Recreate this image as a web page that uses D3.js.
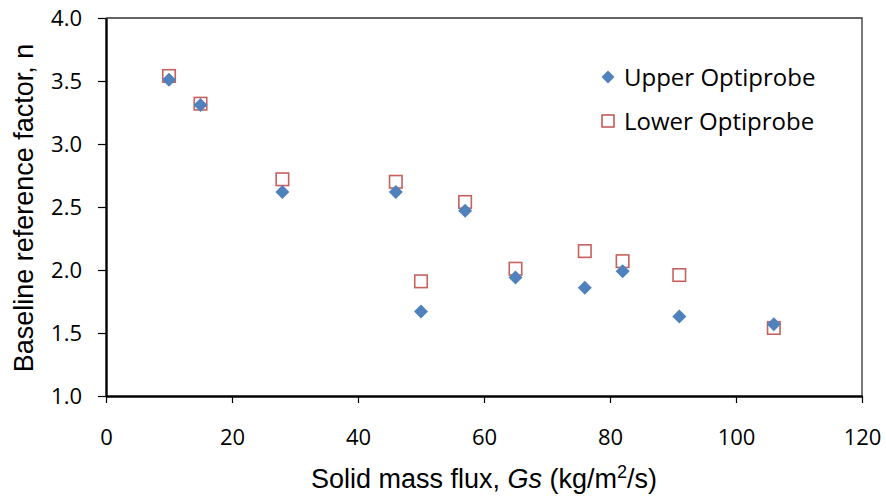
<!DOCTYPE html>
<html><head><meta charset="utf-8">
<script src="https://cdn.jsdelivr.net/npm/d3@7"></script>
<style>body{margin:0;background:#fff}</style>
</head><body><svg id="c" width="886" height="496"></svg>
<script>
const flux = [10, 15, 28, 46, 50, 57, 65, 76, 82, 91, 106];
const upper = [3.51, 3.31, 2.62, 2.62, 1.67, 2.47, 1.94, 1.86, 1.99, 1.63, 1.57];
const lower = [3.54, 3.32, 2.72, 2.70, 1.91, 2.54, 2.01, 2.15, 2.07, 1.96, 1.54];
const xTicks = [0, 20, 40, 60, 80, 100, 120];
const yTicks = [1.0, 1.5, 2.0, 2.5, 3.0, 3.5, 4.0];
const seriesNames = ["Upper Optiprobe", "Lower Optiprobe"];

const svg = d3.select("#c");
const m = {l:106, r:862, t:18, b:396};
const x = d3.scaleLinear().domain([0,120]).range([m.l, m.r]);
const y = d3.scaleLinear().domain([1,4]).range([m.b, m.t]);
const tickFont = "'Open Sans', 'Noto Sans', sans-serif";

// plot border (top/right)
svg.append("path").attr("d", `M${m.l},${m.t}H${m.r}V${m.b}`).attr("fill","none").attr("stroke","#333").attr("stroke-width",1.3);

const xa = svg.append("g").attr("transform",`translate(0,${m.b})`)
  .call(d3.axisBottom(x).tickValues(xTicks).tickSize(7).tickPadding(26).tickSizeOuter(0));
const ya = svg.append("g").attr("transform",`translate(${m.l},0)`)
  .call(d3.axisLeft(y).tickValues(yTicks).tickFormat(d3.format(".1f")).tickSize(8).tickPadding(16).tickSizeOuter(0));
[xa, ya].forEach(g => {
  g.select(".domain").attr("stroke","#000").attr("stroke-width",2.4);
  g.selectAll(".tick line").attr("stroke","#000").attr("stroke-width",1.2);
  g.selectAll("text").attr("font-family", tickFont).attr("font-size", 22).attr("fill","#000");
});
ya.selectAll("text").attr("dy","0.36em");

function diamondPath(s){ return `M0,${-s}L${s},0L0,${s}L${-s},0Z`; }

// lower series (squares)
svg.append("g").selectAll("rect").data(flux.map((f,i)=>[f, lower[i]])).join("rect")
  .attr("x", d=>x(d[0])-6.25).attr("y", d=>y(d[1])-6.25).attr("width",12.5).attr("height",12.5)
  .attr("fill","none").attr("stroke","#C0504D").attr("stroke-width",1.6).attr("opacity",0.9);
// upper series (diamonds)
svg.append("g").selectAll("path").data(flux.map((f,i)=>[f, upper[i]])).join("path")
  .attr("d", diamondPath(7)).attr("transform", d=>`translate(${x(d[0])},${y(d[1])})`)
  .attr("fill","#4F81BD");

// legend
const lg = svg.append("g");
lg.append("path").attr("d", diamondPath(6.5)).attr("transform","translate(608,77)").attr("fill","#4F81BD");
lg.append("rect").attr("x",602).attr("y",115).attr("width",12).attr("height",12).attr("fill","none").attr("stroke","#C0504D").attr("stroke-width",1.5);
lg.append("text").attr("x",624).attr("y",86).text(seriesNames[0]).attr("font-family",tickFont).attr("font-size",24);
lg.append("text").attr("x",624).attr("y",130).text(seriesNames[1]).attr("font-family",tickFont).attr("font-size",24);

// axis titles
const titleFont = "'Liberation Sans', Arial, sans-serif";
const xt = svg.append("text").attr("x", 484).attr("y", 488).attr("text-anchor","middle")
  .attr("font-family", titleFont).attr("font-size", 27);
xt.append("tspan").text("Solid mass flux, ");
xt.append("tspan").attr("font-style","italic").text("Gs");
xt.append("tspan").text(" (kg/m");
xt.append("tspan").attr("font-size",18).attr("dy",-10).text("2");
xt.append("tspan").attr("dy",10).text("/s)");

svg.append("text").attr("transform","translate(33,208) rotate(-90)").attr("text-anchor","middle")
  .attr("font-family", titleFont).attr("font-size", 27).text("Baseline reference factor, n");
</script></body></html>
